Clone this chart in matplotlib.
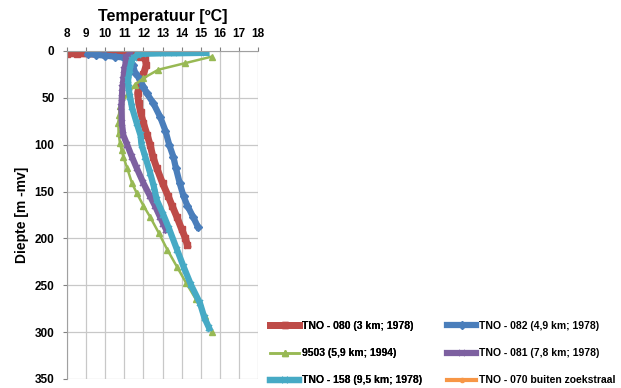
import matplotlib
matplotlib.use("Agg")
import matplotlib.pyplot as plt

plt.rcParams['font.family'] = ['Liberation Sans', 'DejaVu Sans']
plt.rcParams['font.weight'] = 'bold'

# ---- data: (depth [m -mv], temperature [C]) ----
d080 = [3, 3, 3.5, 4, 4.5, 6, 8, 15, 25, 35, 45, 55, 65, 77, 90, 100, 113, 125, 141, 155, 165, 177, 190, 200, 207]
t080 = [8.0, 8.5, 10.0, 10.8, 11.4, 11.8, 12.1, 12.15, 12.0, 11.8, 11.7, 11.75, 11.85, 12.0, 12.2, 12.35, 12.5, 12.7, 13.0, 13.3, 13.5, 13.75, 14.0, 14.2, 14.3]

d082 = [3, 4, 5, 6, 7, 9, 15, 23, 30, 38, 45, 55, 70, 85, 100, 113, 125, 141, 155, 165, 177, 188]
t082 = [9.1, 9.5, 10.0, 10.5, 11.0, 11.3, 11.45, 11.56, 11.8, 12.0, 12.17, 12.5, 12.87, 13.15, 13.35, 13.57, 13.7, 13.9, 14.1, 14.3, 14.6, 14.86]

d9503 = [6, 13, 20, 29, 36, 45, 59, 68, 77, 88, 98, 106, 113, 125, 141, 152, 165, 177, 194, 212, 230, 248, 265, 283, 300]
t9503 = [15.58, 14.18, 12.78, 12.0, 11.56, 11.2, 10.77, 10.72, 10.69, 10.7, 10.77, 10.86, 10.95, 11.15, 11.4, 11.66, 12.0, 12.35, 12.8, 13.25, 13.75, 14.25, 14.75, 15.2, 15.6]

d081 = [4, 6, 10, 20, 31, 40, 50, 60, 77, 90, 100, 113, 125, 141, 155, 165, 177, 185, 191]
t081 = [11.3, 11.1, 11.1, 11.0, 10.95, 10.9, 10.87, 10.85, 10.87, 10.95, 11.15, 11.4, 11.65, 12.0, 12.35, 12.6, 12.87, 13.05, 13.2]

d158 = [2, 2.5, 2.5, 3, 4, 7, 10, 20, 31, 40, 49, 60, 77, 90, 100, 113, 130, 145, 159, 175, 190, 212, 230, 250, 269, 285, 296]
t158 = [15.3, 13.6, 13.0, 12.0, 11.7, 11.5, 11.38, 11.28, 11.2, 11.22, 11.3, 11.4, 11.65, 11.85, 11.9, 12.1, 12.35, 12.55, 12.7, 13.05, 13.35, 13.76, 14.1, 14.5, 14.96, 15.2, 15.45]

d070 = []
t070 = []

labels = ["TNO - 080 (3 km; 1978)", "TNO - 082 (4,9 km; 1978)", "9503 (5,9 km; 1994)",
          "TNO - 081 (7,8 km; 1978)", "TNO - 158 (9,5 km; 1978)", "TNO - 070 buiten zoekstraal"]
xticks = list(range(8, 19))
yticks = list(range(0, 351, 50))

fig = plt.figure(figsize=(6.21, 3.88), dpi=100)
ax = fig.add_axes([0.1079, 0.0232, 0.3076, 0.8454])

h080, = ax.plot(t080, d080, color='#BE4B48', lw=5, marker='s', ms=5, label=labels[0])
h082, = ax.plot(t082, d082, color='#4A7EBB', lw=4.5, marker='D', ms=4, label=labels[1])
h9503, = ax.plot(t9503, d9503, color='#98B954', lw=1.8, marker='^', ms=5, label=labels[2])
h081, = ax.plot(t081, d081, color='#7D60A0', lw=4.5, marker='x', ms=5, mew=1.2, label=labels[3])
h158, = ax.plot(t158, d158, color='#46AAC5', lw=4.5, marker='x', ms=5, mew=1.2, label=labels[4])
h070, = ax.plot(t070, d070, color='#F79646', lw=3, marker='o', ms=3, label=labels[5])

ax.set_xlim(8, 18)
ax.set_ylim(350, 0)
ax.set_xticks(xticks)
ax.set_yticks(yticks)
ax.xaxis.tick_top()
ax.xaxis.set_label_position('top')
ax.tick_params(axis='both', labelsize=8.5, length=3, color='#808080')
ax.tick_params(axis='x', pad=5)
ax.tick_params(axis='y', pad=6)
for lbl in ax.get_xticklabels() + ax.get_yticklabels():
    lbl.set_fontweight('bold')
ax.grid(True, color='#C8C8C8', lw=0.9)
ax.set_axisbelow(True)
for s in ['right', 'bottom']:
    ax.spines[s].set_visible(False)
for s in ['left', 'top']:
    ax.spines[s].set_color('#A0A0A0')

ax.set_xlabel('Temperatuur [ºC]', fontsize=11.5, fontweight='bold', labelpad=5)
ax.set_ylabel('Diepte [m -mv]', fontsize=10, fontweight='bold', labelpad=4)

legkw = dict(loc='upper left', frameon=False, borderpad=0, borderaxespad=0,
             handlelength=2.8, labelspacing=1.65, handletextpad=0.25,
             prop={'weight': 'bold', 'size': 7.5})
col1 = [h080, h9503, h158]
col2 = [h082, h081, h070]
leg1 = fig.legend(col1, [h.get_label() for h in col1], bbox_to_anchor=(270 / 621, 1 - 321 / 388), **legkw)
fig.add_artist(leg1)
fig.legend(col2, [h.get_label() for h in col2], bbox_to_anchor=(447 / 621, 1 - 321 / 388), **legkw)

fig.savefig('out.png', dpi=100)
